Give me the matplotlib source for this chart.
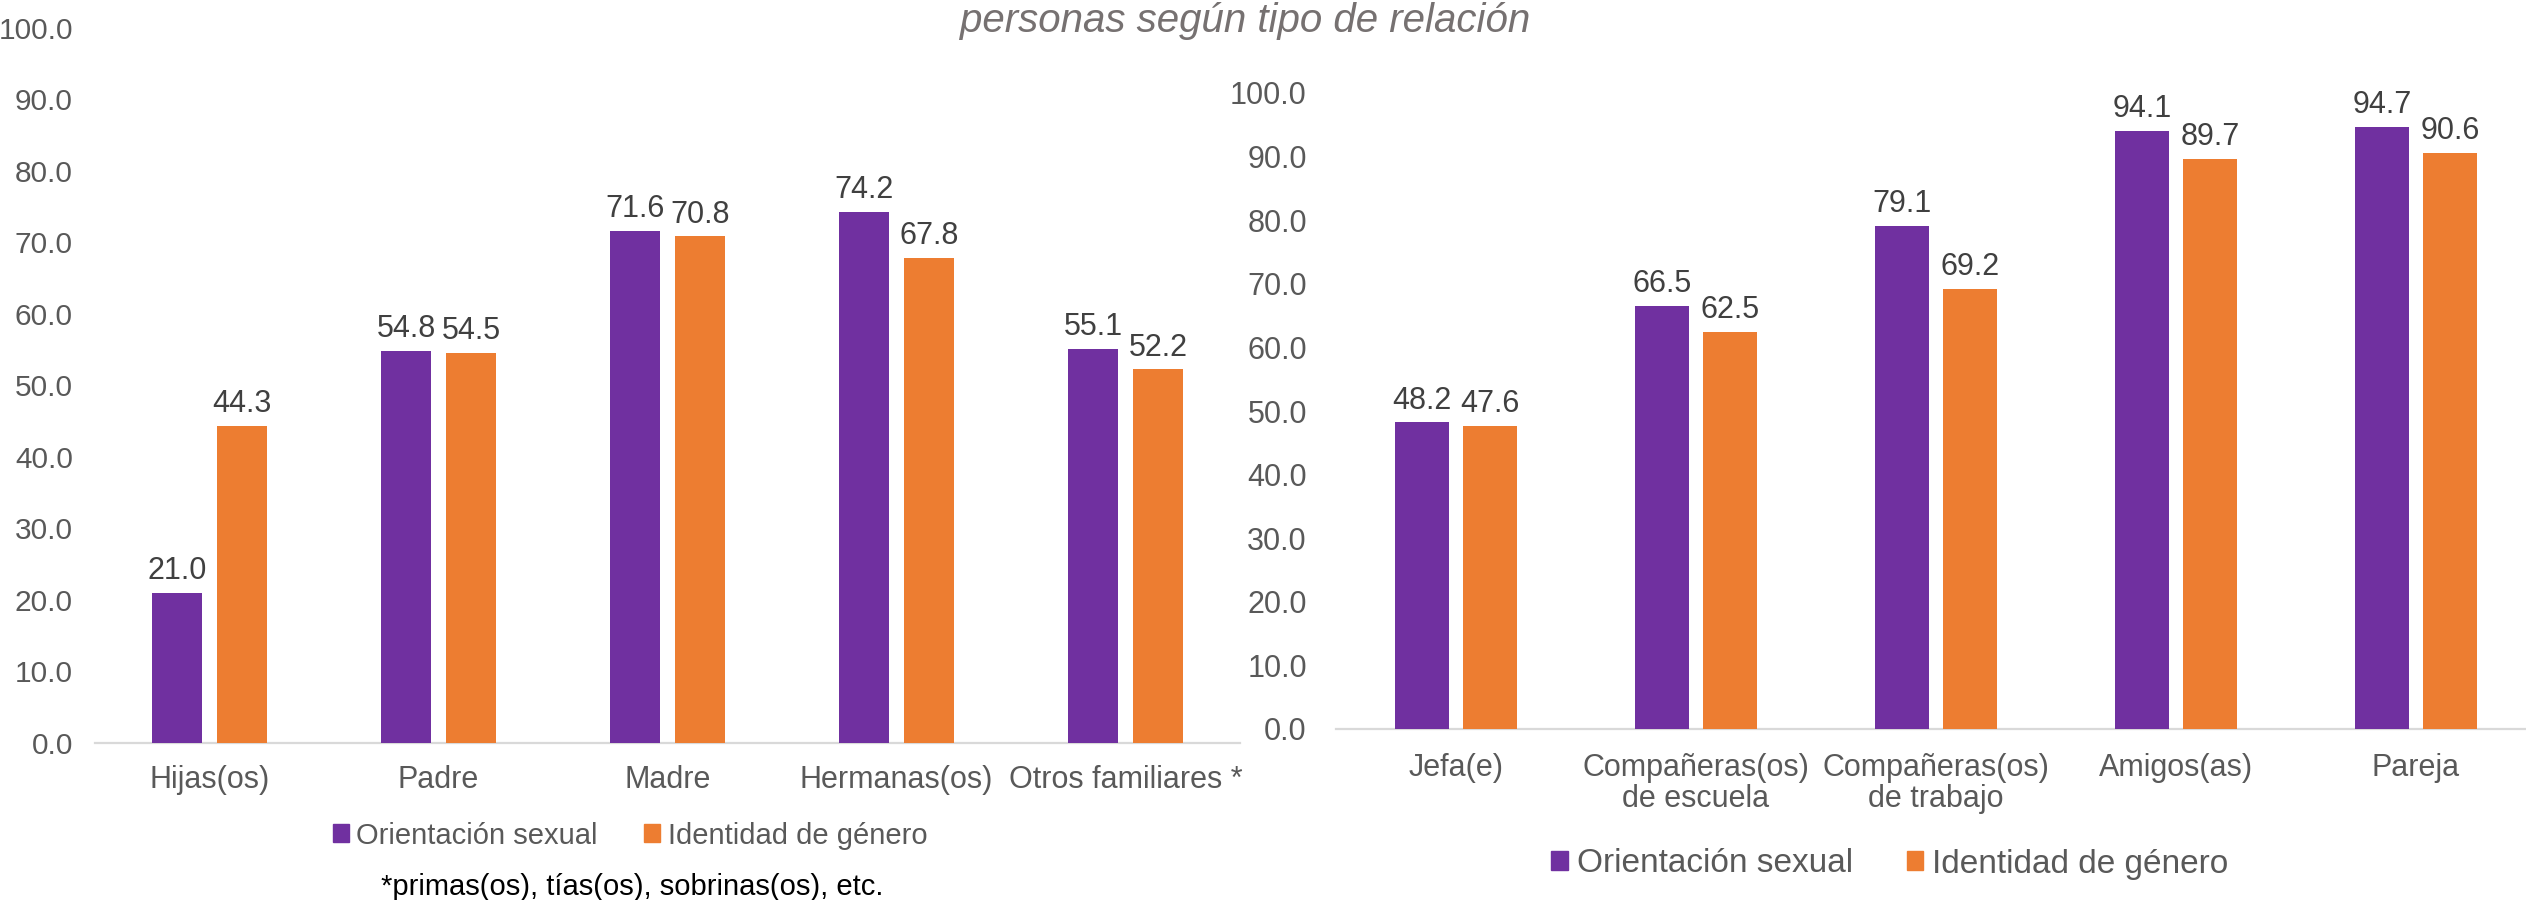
import matplotlib
matplotlib.use("Agg")
import matplotlib.pyplot as plt
import numpy as np
from matplotlib.patches import Patch
from matplotlib.ticker import FormatStrFormatter

plt.rcParams['font.family'] = ['Liberation Sans', 'DejaVu Sans']

# ---- data ----
left_categories = ["Hijas(os)", "Padre", "Madre", "Hermanas(os)", "Otros familiares *"]
left_orientacion = [21.0, 54.8, 71.6, 74.2, 55.1]
left_identidad = [44.3, 54.5, 70.8, 67.8, 52.2]

right_categories = ["Jefa(e)", "Compañeras(os)\nde escuela", "Compañeras(os)\nde trabajo",
                    "Amigos(as)", "Pareja"]
right_orientacion = [48.2, 66.5, 79.1, 94.1, 94.7]
right_identidad = [47.6, 62.5, 69.2, 89.7, 90.6]

series_names = ["Orientación sexual", "Identidad de género"]
title_text = "personas según tipo de relación"
footnote_text = "*primas(os), tías(os), sobrinas(os), etc."
y_ticks = [0, 10, 20, 30, 40, 50, 60, 70, 80, 90, 100]

PURPLE = "#7030A0"
ORANGE = "#ED7D31"
TEXT = "#595959"
LABEL = "#404040"
AXIS = "#D9D9D9"

W, H = 2526, 900
fig = plt.figure(figsize=(W / 100, H / 100), dpi=100)

ax_l = fig.add_axes([95 / W, 1 - 742.7 / H, 1145 / W, 715 / H])
ax_r = fig.add_axes([1336 / W, 1 - 729 / H, 1200 / W, 636 / H])

bw = 0.222
off = 0.142


def draw(ax, cats, s1, s2, ypad, xpad, fs, yfs):
    x = np.arange(len(cats))
    b1 = ax.bar(x - off, s1, bw, color=PURPLE, label=series_names[0])
    b2 = ax.bar(x + off, s2, bw, color=ORANGE, label=series_names[1])
    ax.bar_label(b1, fmt="%.1f", padding=5, fontsize=fs, color=LABEL)
    ax.bar_label(b2, fmt="%.1f", padding=5, fontsize=fs, color=LABEL)
    ax.set_xlim(-0.5, len(cats) - 0.5)
    ax.set_ylim(0, 100)
    ax.set_yticks(y_ticks)
    ax.yaxis.set_major_formatter(FormatStrFormatter("%.1f"))
    ax.set_xticks(x)
    ax.set_xticklabels(cats, linespacing=1.05)
    ax.tick_params(axis="y", length=0, pad=ypad, labelsize=yfs, labelcolor=TEXT)
    ax.tick_params(axis="x", length=0, pad=xpad, labelsize=fs, labelcolor=TEXT)
    for s in ["top", "right", "left"]:
        ax.spines[s].set_visible(False)
    ax.spines["bottom"].set_color(AXIS)
    ax.spines["bottom"].set_linewidth(1.6)
    ax.spines["bottom"].set_zorder(0.5)
    ax.patch.set_alpha(0)
    return b1, b2


draw(ax_l, left_categories, left_orientacion, left_identidad, 16, 16, 22, 21.5)
draw(ax_r, right_categories, right_orientacion, right_identidad, 21, 17, 22, 22)

handles = [Patch(color=PURPLE), Patch(color=ORANGE)]
fig.legend(handles, series_names, loc="center", bbox_to_anchor=(630 / W, 1 - 835.5 / H),
           ncol=2, frameon=False, fontsize=21, labelcolor=TEXT,
           handlelength=0.55, handleheight=0.55, handletextpad=0.25, columnspacing=1.6,
           borderpad=0, borderaxespad=0)
fig.legend(handles, series_names, loc="center", bbox_to_anchor=(1890 / W, 1 - 864 / H),
           ncol=2, frameon=False, fontsize=24, labelcolor=TEXT,
           handlelength=0.5, handleheight=0.5, handletextpad=0.27, columnspacing=1.6,
           borderpad=0, borderaxespad=0)

fig.text(632 / W, 1 - 887 / H, footnote_text, ha="center", va="center", fontsize=21, color="black")
fig.text(1245 / W, 1 - 32 / H, title_text, ha="center", va="baseline", fontsize=29,
         style="italic", color="#767171")

fig.savefig("out.png", dpi=100)
